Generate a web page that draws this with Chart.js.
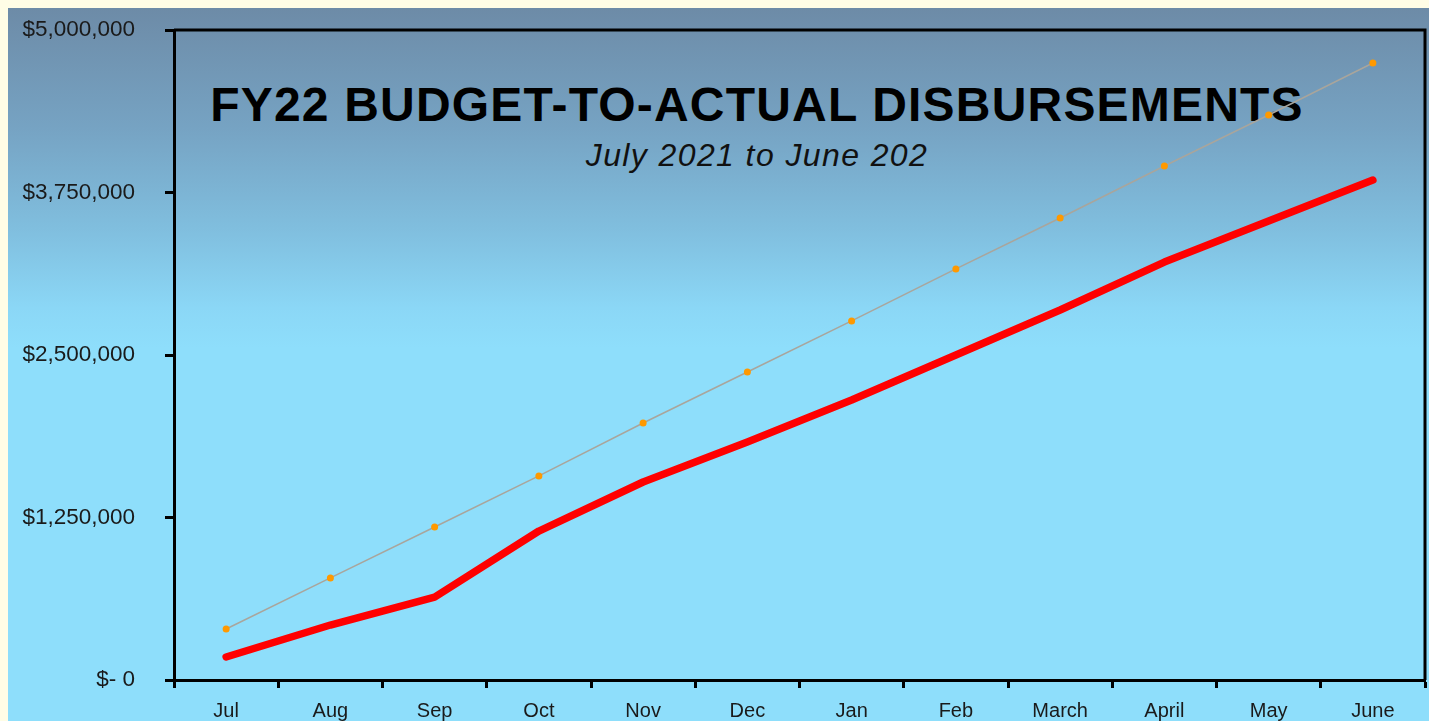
<!DOCTYPE html>
<html>
<head>
<meta charset="utf-8">
<script src="https://cdn.jsdelivr.net/npm/chart.js@4.4.1/dist/chart.umd.min.js"></script>
<style>
  html, body { margin: 0; padding: 0; background: #fffde6; overflow: hidden; }
  #panel {
    position: absolute; left: 8px; top: 8px; width: 1421px; height: 713px;
    background: linear-gradient(to bottom, #6d8ba7 0px, #76a3c3 120px, #80bede 220px, #8bd7f6 300px, #8edefb 340px, #8edefb 100%);
  }
  .title {
    position: absolute; left: 0; width: 1498px; text-align: center;
    font-family: "Liberation Sans", Arial, sans-serif; color: #000; white-space: nowrap;
  }
  #mainTitle { top: 69px; font-size: 48px; font-weight: bold; letter-spacing: 1.2px; line-height: 56px; }
  #subTitle { top: 129px; font-size: 32px; font-style: italic; letter-spacing: 1.4px; line-height: 36px; color: #111; }
  #chart { position: absolute; left: 0; top: 0; }
</style>
</head>
<body>
<div id="panel">
  <div class="title" id="mainTitle">FY22 BUDGET-TO-ACTUAL DISBURSEMENTS</div>
  <div class="title" id="subTitle">July 2021 to June 202</div>
  <canvas id="chart" width="1421" height="713"></canvas>
</div>
<script>
const months = ["Jul", "Aug", "Sep", "Oct", "Nov", "Dec", "Jan", "Feb", "March", "April", "May", "June"];
const budget = [392000, 785000, 1177000, 1570000, 1977000, 2369000, 2762000, 3162000, 3554000, 3954000, 4346000, 4746000];
const actual = [177000, 423000, 638000, 1146000, 1523000, 1831000, 2154000, 2500000, 2846000, 3215000, 3531000, 3846000];
const yTickLabels = ["$- 0", "$1,250,000", "$2,500,000", "$3,750,000", "$5,000,000"];

const fontFamily = "'Liberation Sans', Arial, sans-serif";

// top and right edges of the plot frame
const framePlugin = {
  id: "frame",
  afterDraw(chart) {
    const { ctx, chartArea: a } = chart;
    ctx.save();
    ctx.strokeStyle = "#000";
    ctx.lineWidth = 3;
    ctx.beginPath();
    ctx.moveTo(a.left, a.top);
    ctx.lineTo(a.right, a.top);
    ctx.lineTo(a.right, a.bottom);
    ctx.stroke();
    ctx.restore();
  }
};

new Chart(document.querySelector("#chart"), {
  type: "line",
  data: {
    labels: months,
    datasets: [
      {
        label: "Budget",
        data: budget,
        borderColor: "#a9a59c",
        borderWidth: 1.5,
        pointRadius: 3.5,
        pointBackgroundColor: "#ff9900",
        pointBorderWidth: 0,
        tension: 0
      },
      {
        label: "Actual",
        data: actual,
        borderColor: "#ff0000",
        borderWidth: 7.5,
        pointRadius: 0,
        borderCapStyle: "round",
        borderJoinStyle: "round",
        tension: 0
      }
    ]
  },
  plugins: [framePlugin],
  options: {
    responsive: false,
    animation: false,
    layout: { padding: { top: 22, right: 2, left: 0, bottom: 0 } },
    plugins: { legend: { display: false }, tooltip: { enabled: false } },
    scales: {
      x: {
        offset: true,
        grid: { offset: true, drawOnChartArea: false, tickLength: 8, tickWidth: 3, tickColor: "#000" },
        border: { color: "#000", width: 3 },
        ticks: { color: "#1a1a1a", font: { family: fontFamily, size: 20 }, padding: 11, maxRotation: 0 },
        afterFit(scale) { scale.height = 41; scale.paddingLeft = 0; scale.paddingRight = 0; }
      },
      y: {
        min: 0,
        max: 5000000,
        grid: { drawOnChartArea: false, tickLength: 9, tickWidth: 3, tickColor: "#000" },
        border: { color: "#000", width: 3 },
        ticks: {
          stepSize: 1250000,
          color: "#1a1a1a",
          font: { family: fontFamily, size: 22.5 },
          padding: 30,
          callback: (value, index) => yTickLabels[index]
        },
        afterFit(scale) { scale.width = 166; scale.paddingTop = 0; scale.paddingBottom = 0; }
      }
    }
  }
});
</script>
</body>
</html>
